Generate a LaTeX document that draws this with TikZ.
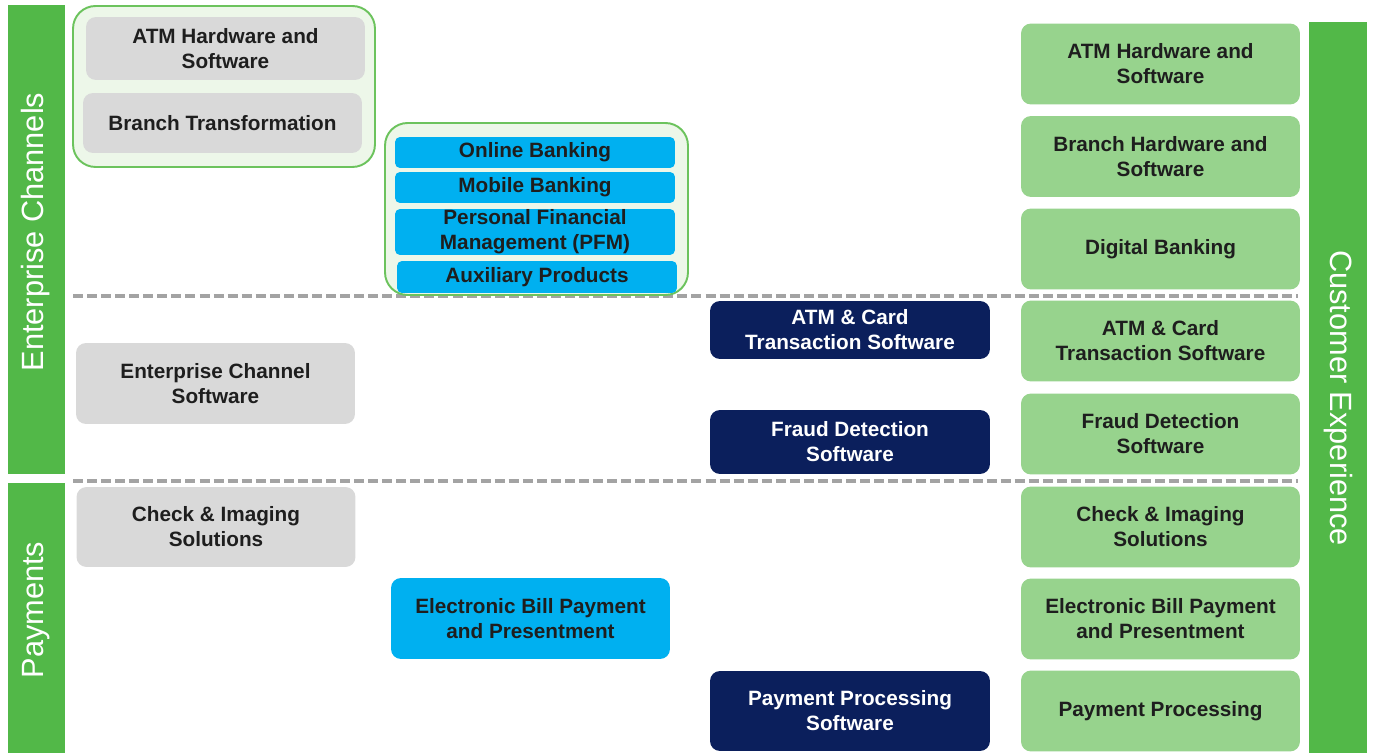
\documentclass[tikz,border=0pt]{standalone}
\usepackage{fontspec}
\setmainfont{Liberation Sans}
\usepackage[HTML]{xcolor}
\usepackage{tikz}
\usetikzlibrary{positioning}

\definecolor{barGreen}{HTML}{52B848}
\definecolor{tileGreen}{HTML}{97D38D}
\definecolor{grpFill}{HTML}{EDF7E9}
\definecolor{grpLine}{HTML}{6CC35D}
\definecolor{tileGray}{HTML}{D9D9D9}
\definecolor{tileBlue}{HTML}{00B0F0}
\definecolor{tileNavy}{HTML}{0B1F5C}
\definecolor{inkDark}{HTML}{1E1E1E}
\definecolor{sepGray}{HTML}{A3A3A3}

\begin{document}
\begin{tikzpicture}[x=0.02cm, y=-0.02cm,
  tile/.style={rounded corners=0.2cm, align=center, inner sep=0pt,
    minimum width=5.58cm, minimum height=1.62cm, text=inkDark,
    font=\bfseries\fontsize{11.8}{14.2}\selectfont},
  graytile/.style={tile, fill=tileGray},
  bluetile/.style={tile, fill=tileBlue, minimum width=5.6cm, rounded corners=0.1cm},
  navytile/.style={tile, fill=tileNavy, text=white, minimum width=5.6cm},
  greentile/.style={tile, fill=tileGreen},
  grpbox/.style={draw=grpLine, fill=grpFill, line width=1.1pt, rounded corners=0.45cm,
    inner sep=0pt},
  barlabel/.style={text=white, font=\fontsize{17.5}{20}\selectfont, inner sep=0pt},
  sepline/.style={draw=sepGray, line width=2pt, dash pattern=on 5.7pt off 2.3pt}]
\useasboundingbox (0,0) rectangle (1377,753);

% --- Side bars ---
\fill[barGreen] (8,5) rectangle (65,474);
\fill[barGreen] (8,483) rectangle (65,753);
\fill[barGreen] (1309,22) rectangle (1367,753);
\node[barlabel, rotate=90] (lblec) at (36,232) {Enterprise Channels};
\node[barlabel, rotate=90] (lblpay) at (36,610) {Payments};
\node[barlabel, rotate=-90] (lblcx) at (1338,398) {Customer Experience};

% --- Section separators ---
\draw[sepline] (73,296) -- (1298,296);
\draw[sepline] (73,481) -- (1298,481);

% --- Groups ---
\node[grpbox, minimum width=6.04cm, minimum height=3.22cm] (grpbranch) at (224,86.5) {};
\node[grpbox, minimum width=6.06cm, minimum height=3.44cm] (grpdigital) at (536.5,209) {};

% --- Gray column ---
\node[graytile, minimum height=1.26cm] (atmhw) at (225.5,48.5) {ATM Hardware and\\Software};
\node[graytile, minimum height=1.2cm] (branch) at (222.5,123) {Branch Transformation};
\node[graytile] (ecsw) at (215.5,383.5) {Enterprise Channel\\Software};
\node[graytile, minimum height=1.6cm] (check) at (216,527) {Check \& Imaging\\Solutions};

% --- Blue column ---
\node[bluetile, minimum height=0.62cm] (online) at (535,152.5) {Online Banking};
\node[bluetile, minimum height=0.62cm] (mobile) at (535,187.5) {Mobile Banking};
\node[bluetile, minimum height=0.92cm] (pfm) at (535,232) {Personal Financial\\Management (PFM)};
\node[bluetile, minimum height=0.64cm] (aux) at (537,277) {Auxiliary Products};
\node[bluetile, minimum width=5.58cm, rounded corners=0.2cm] (ebpp) at (530.5,618.5) {Electronic Bill Payment\\and Presentment};

% --- Navy column ---
\node[navytile, minimum height=1.16cm] (atmcard) at (850,330) {ATM \& Card\\Transaction Software};
\node[navytile, minimum height=1.28cm] (fraud) at (850,442) {Fraud Detection\\Software};
\node[navytile, minimum height=1.6cm] (payproc) at (850,711) {Payment Processing\\Software};

% --- Customer experience column ---
\node[greentile] (cxatm) at (1160.5,64) {ATM Hardware and\\Software};
\node[greentile] (cxbranch) at (1160.5,156.5) {Branch Hardware and\\Software};
\node[greentile] (cxdigital) at (1160.5,249) {Digital Banking};
\node[greentile] (cxcard) at (1160.5,341) {ATM \& Card\\Transaction Software};
\node[greentile] (cxfraud) at (1160.5,434) {Fraud Detection\\Software};
\node[greentile] (cxcheck) at (1160.5,527) {Check \& Imaging\\Solutions};
\node[greentile] (cxebpp) at (1160.5,619) {Electronic Bill Payment\\and Presentment};
\node[greentile] (cxpay) at (1160.5,711) {Payment Processing};
\end{tikzpicture}
\end{document}
